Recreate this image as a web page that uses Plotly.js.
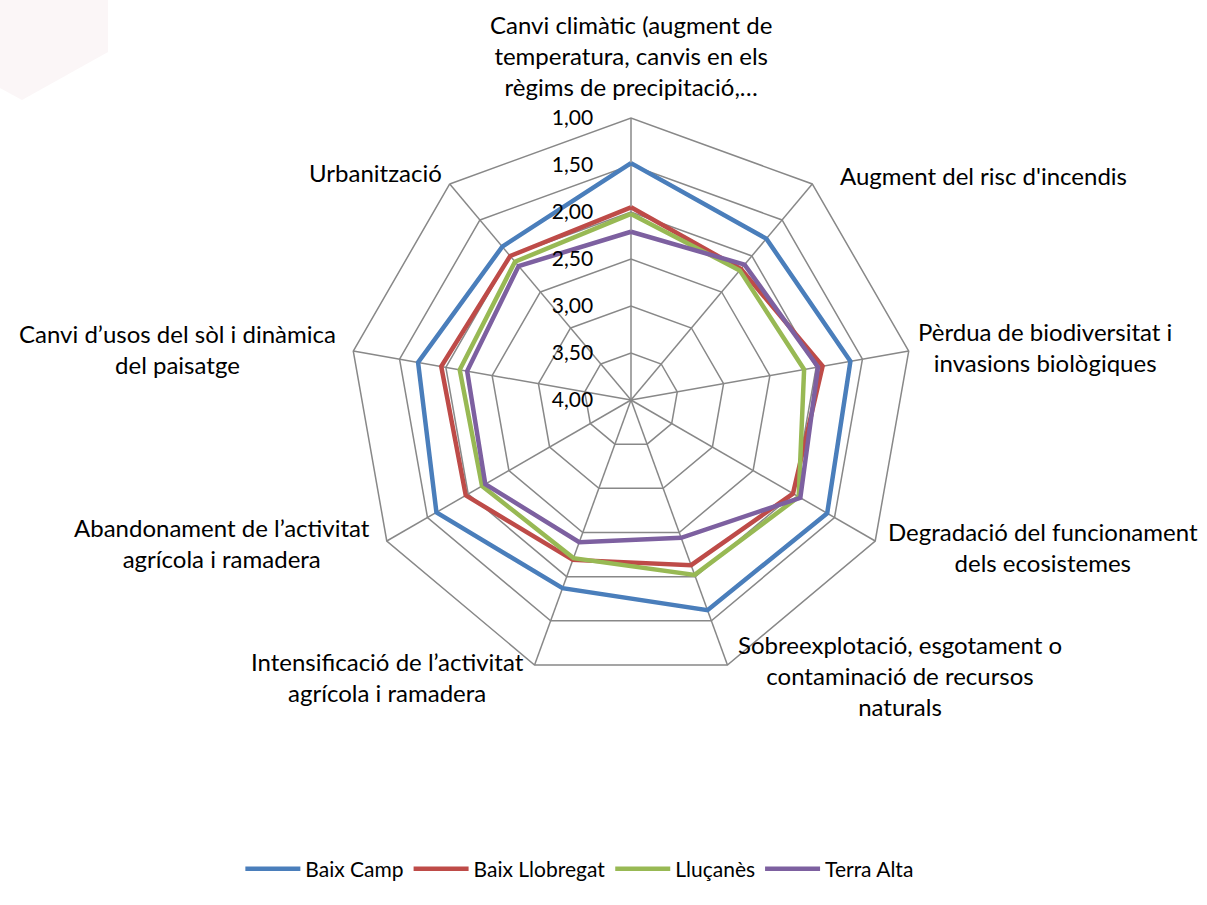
<!DOCTYPE html>
<html>
<head>
<meta charset="utf-8">
<script src="https://cdn.plot.ly/plotly-3.0.1.min.js"></script>
<style>html,body{margin:0;padding:0;background:#fff;}#chart{width:1207px;height:905px;}</style>
</head>
<body>
<div id="chart"></div>
<script>
var categories = [
  "Canvi climàtic (augment de temperatura, canvis en els règims de precipitació,…",
  "Augment del risc d'incendis",
  "Pèrdua de biodiversitat i invasions biològiques",
  "Degradació del funcionament dels ecosistemes",
  "Sobreexplotació, esgotament o contaminació de recursos naturals",
  "Intensificació de l’activitat agrícola i ramadera",
  "Abandonament de l’activitat agrícola i ramadera",
  "Canvi d’usos del sòl i dinàmica del paisatge",
  "Urbanització"
];
var categoryLabels = [
  "Canvi climàtic (augment de<br>temperatura, canvis en els<br>règims de precipitació,…",
  "Augment del risc d'incendis",
  "Pèrdua de biodiversitat i<br>invasions biològiques",
  "Degradació del funcionament<br>dels ecosistemes",
  "Sobreexplotació, esgotament o<br>contaminació de recursos<br>naturals",
  "Intensificació de l’activitat<br>agrícola i ramadera",
  "Abandonament de l’activitat<br>agrícola i ramadera",
  "Canvi d’usos del sòl i dinàmica<br>del paisatge",
  "Urbanització"
];
var seriesNames = ["Baix Camp", "Baix Llobregat", "Lluçanès", "Terra Alta"];
var baixCamp      = [1.48, 1.76, 1.63, 1.59, 1.62, 1.87, 1.61, 1.70, 1.87];
var baixLlobregat = [1.95, 2.18, 1.93, 2.01, 2.13, 2.19, 1.97, 1.95, 2.00];
var llucanes      = [2.02, 2.20, 2.13, 1.94, 2.02, 2.21, 2.17, 2.15, 2.08];
var terraAlta     = [2.21, 2.12, 1.98, 1.92, 2.44, 2.39, 2.21, 2.23, 2.14];
var radialTicks   = [1.0, 1.5, 2.0, 2.5, 3.0, 3.5, 4.0];

var colors = ["#4a7ebb", "#be4b48", "#98b954", "#7d60a0"];
var values = [baixCamp, baixLlobregat, llucanes, terraAlta];

var traces = values.map(function (v, i) {
  return {
    type: "scatterpolar",
    mode: "lines",
    name: seriesNames[i],
    r: v.concat([v[0]]),
    theta: categories.concat([categories[0]]),
    line: {color: colors[i], width: 4.5},
    hoverinfo: "skip"
  };
});

var W = 1207, H = 905, cx = 631, cy = 400, R = 282;

// label block centres (pixels) for the category names around the chart
var labelPos = [[631, 56], [983, 175], [1045, 347], [1043, 547], [900, 675],
                [387, 677], [222, 543], [177, 349], [375, 172]];
var annotations = categoryLabels.map(function (t, i) {
  return {
    text: t, showarrow: false, align: "center",
    xref: "paper", yref: "paper",
    x: labelPos[i][0] / W, y: 1 - labelPos[i][1] / H,
    xanchor: "center", yanchor: "middle",
    font: {size: 24, color: "#000"}
  };
});

var layout = {
  width: W, height: H,
  margin: {l: 0, r: 0, t: 0, b: 0},
  paper_bgcolor: "#fff",
  plot_bgcolor: "#fff",
  separators: ",.",
  font: {family: "Lato, 'Open Sans', sans-serif", size: 20, color: "#000"},
  showlegend: true,
  legend: {
    orientation: "h",
    x: 0.48, xanchor: "center",
    y: 1 - 869 / H, yanchor: "middle",
    font: {size: 21, color: "#000"},
    itemwidth: 55,
    traceorder: "normal"
  },
  shapes: [{
    type: "path", xref: "paper", yref: "paper", layer: "below",
    path: "M0,1 L" + (108 / W) + ",1 L" + (108 / W) + "," + (1 - 52 / H) +
          " L" + (22 / W) + "," + (1 - 100 / H) + " L0," + (1 - 88 / H) + " Z",
    fillcolor: "#fbf6f7", line: {width: 0}
  }],
  annotations: annotations,
  polar: {
    domain: {x: [(cx - R) / W, (cx + R) / W], y: [1 - (cy + R) / H, 1 - (cy - R) / H]},
    gridshape: "linear",
    bgcolor: "rgba(0,0,0,0)",
    angularaxis: {
      type: "category",
      direction: "clockwise",
      rotation: 90,
      showline: true,
      linecolor: "#888",
      linewidth: 1.5,
      showgrid: true,
      gridcolor: "#888",
      gridwidth: 1.5,
      ticks: "",
      showticklabels: false
    },
    radialaxis: {
      range: [4, 1],
      tickvals: radialTicks,
      tickformat: ".2f",
      angle: 90,
      side: "counterclockwise",
      tickangle: 90,
      showline: false,
      showgrid: true,
      gridcolor: "#888",
      gridwidth: 1.5,
      ticks: "outside",
      ticklen: 30,
      tickcolor: "rgba(0,0,0,0)",
      tickfont: {size: 21, color: "#000"}
    }
  }
};

Plotly.newPlot("chart", traces, layout, {displayModeBar: false, staticPlot: true});
</script>
</body>
</html>
